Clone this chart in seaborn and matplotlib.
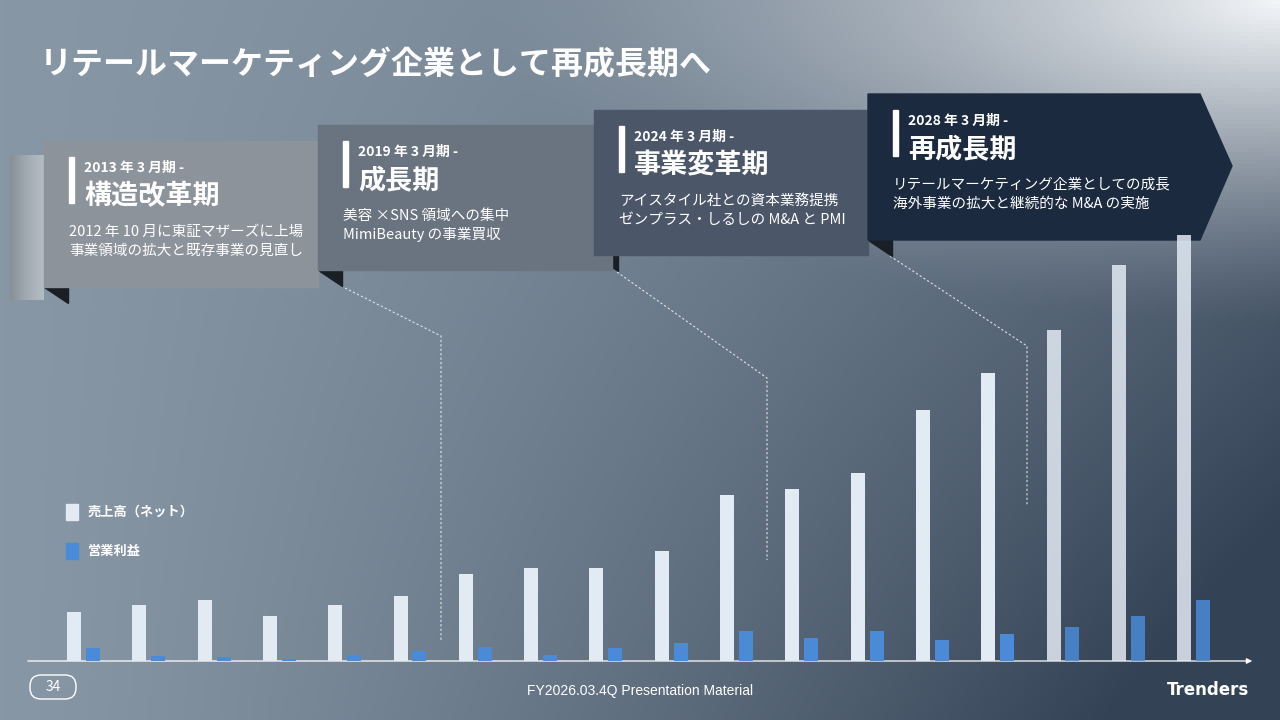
import matplotlib.pyplot as plt
import matplotlib.patches as mpatches
import seaborn as sns
import numpy as np
import pandas as pd

# bar values (pixel heights, arbitrary units)
periods = [f"P{i}" for i in range(1, 19)]
sales = [49, 56, 61, 45, 56, 65, 87, 93, 93, 110, 166, 172, 188, 251, 288, 331, 396, 426]
op_profit = [13, 5, 4, 2, 6, 10, 14, 6, 13, 18, 30, 23, 30, 21, 27, 34, 45, 61]
series_names = ["売上高（ネット）", "営業利益"]

phase_dates = ["2013 年 3 月期 -", "2019 年 3 月期 -", "2024 年 3 月期 -", "2028 年 3 月期 -"]
phase_names = ["構造改革期", "成長期", "事業変革期", "再成長期"]
phase_notes = [["2012 年 10 月に東証マザーズに上場", "事業領域の拡大と既存事業の見直し"],
               ["美容 ×SNS 領域への集中", "MimiBeauty の事業買収"],
               ["アイスタイル社との資本業務提携", "ゼンプラス・しるしの M&A と PMI"],
               ["リテールマーケティング企業としての成長", "海外事業の拡大と継続的な M&A の実施"]]

sns.set_theme(style="white")
plt.rcParams['font.family'] = ['Noto Sans CJK JP', 'DejaVu Sans']

W, H = 1280, 720
fig = plt.figure(figsize=(12.8, 7.2), dpi=100)

# background gradient
bg = fig.add_axes([0, 0, 1, 1])
xx, yy = np.meshgrid(np.linspace(0, 1, 320), np.linspace(0, 1, 180))
left = np.array([136, 151, 165]) / 255
right = np.array([52, 66, 86]) / 255
t = np.clip(xx ** 1.3 * (0.45 + 0.75 * yy), 0, 1)[..., None]
img = left * (1 - t) + right * t
d = np.sqrt(((xx - 1.0) * 1.6) ** 2 + (yy * 2.2) ** 2)
glow = np.clip(1 - d, 0, 1)[..., None] ** 1.4
img = img * (1 - glow) + np.array([0.95, 0.96, 0.97]) * glow
bg.imshow(img, extent=[0, W, H, 0], aspect="auto")
bg.set_xlim(0, W)
bg.set_ylim(H, 0)
bg.axis("off")

# left glow strip
strip = np.linspace(0.45, 0.85, 40)[None, :].repeat(10, 0)
bg.imshow(strip, extent=[10, 44, 300, 155], cmap="Greys_r", vmin=0, vmax=1, alpha=0.45, aspect="auto")

# phase boxes
boxes = [(44, 141, 274, 146, "#8d939b"), (318, 125, 294, 145, "#6a7480"),
         (594, 110, 274, 145, "#4b5668"), (868, 94, 332, 146, "#1b2a3f")]
for i, (x, y, w, h, c) in enumerate(boxes):
    bg.add_patch(mpatches.Polygon([(x, y + h), (x + 24, y + h), (x + 24, y + h + 16)], closed=True,
                                  color="#1a1f26", zorder=2))
    if i == 3:
        bg.add_patch(mpatches.Polygon([(x, y), (x + w, y), (x + w + 32, y + 72), (x + w, y + h), (x, y + h)],
                                      closed=True, color=c, zorder=3))
    else:
        bg.add_patch(mpatches.Rectangle((x, y), w, h, color=c, zorder=3))
    bg.add_patch(mpatches.Rectangle((x + 25, y + 16), 5, 46, color="white", zorder=4))
    bg.text(x + 40, y + 27, phase_dates[i], color="white", fontsize=10, fontweight="bold", va="center", zorder=5)
    bg.text(x + 40, y + 55, phase_names[i], color="white", fontsize=19.5, fontweight="bold", va="center", zorder=5)
    for j, line in enumerate(phase_notes[i]):
        bg.text(x + 25, y + 91 + j * 19, line, color="white", fontsize=10.5, va="center", zorder=5)

# dashed leader lines
for (x0, y0, x1, y1, y2) in [(345, 288, 441, 336, 640), (617, 272, 767, 378, 560), (890, 256, 1027, 346, 505)]:
    bg.plot([x0, x1, x1], [y0, y1, y2], color="white", lw=0.8, ls=(0, (2, 2)), alpha=0.8, zorder=1)

# title, legend, footer
bg.text(40, 65, "リテールマーケティング企業として再成長期へ", color="white", fontsize=23, fontweight="bold", va="center")
for k, (name, c) in enumerate(zip(series_names, ["#e2eaf4", "#4a8ad6"])):
    bg.add_patch(mpatches.Rectangle((66, 504 + 39 * k), 12, 16, color=c))
    bg.text(88, 512 + 39 * k, name, color="white", fontsize=9.5, fontweight="bold", va="center")
bg.annotate("", xy=(1255, 661), xytext=(25, 661),
            arrowprops=dict(arrowstyle="-|>", color="white", lw=0.9, mutation_scale=8))
bg.add_patch(mpatches.FancyBboxPatch((30, 675), 46, 24, boxstyle="round,pad=0,rounding_size=11",
                                     fill=False, ec="white", lw=1))
bg.text(53, 687, "34", color="white", fontsize=10, ha="center", va="center")
bg.text(640, 691, "FY2026.03.4Q Presentation Material", color="white", fontsize=10, ha="center", va="center",
        family=["Liberation Sans", "DejaVu Sans"])
bg.text(1208, 690, "Trenders", color="white", fontsize=12, fontweight="bold", ha="center", va="center",
        family="DejaVu Sans")

# bars
df = pd.DataFrame({"period": periods * 2, "value": sales + op_profit,
                   "series": [series_names[0]] * 18 + [series_names[1]] * 18})
ax = fig.add_axes([0, (H - 661) / H, 1, 661 / H])
sns.barplot(data=df, x="period", y="value", hue="series", ax=ax, width=0.58, gap=0.26,
            palette=["#e2eaf4", "#4a8ad6"], saturation=1, legend=False, linewidth=0)
ax.set_xlim(-83.5 / 65.3, (W - 83.5) / 65.3)
ax.set_ylim(0, 661)
ax.patch.set_alpha(0)
ax.axis("off")
# fade the last three bars slightly
for p in ax.patches[15:18] + ax.patches[33:36]:
    p.set_alpha(0.85)

plt.savefig("out.png", dpi=100)
